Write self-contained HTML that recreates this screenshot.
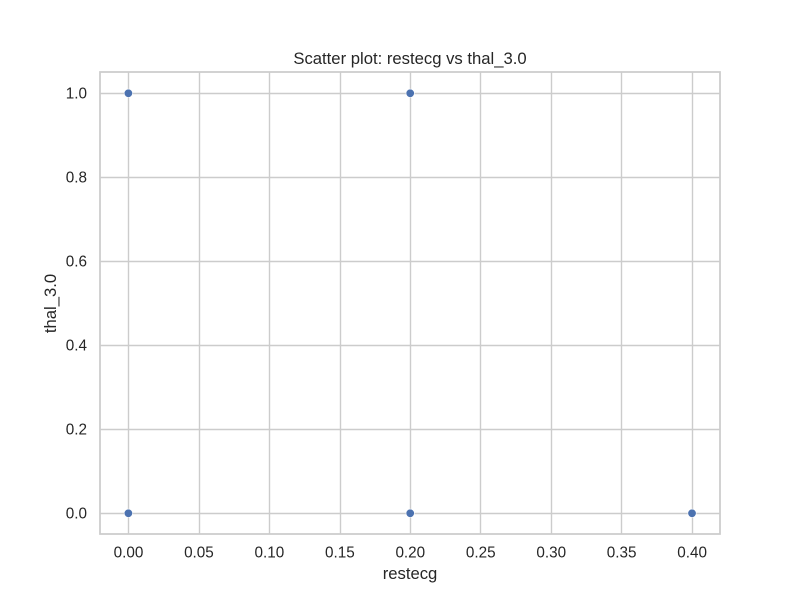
<!DOCTYPE html>
<html>
<head>
<meta charset="utf-8">
<style>
html,body{margin:0;padding:0;background:#fff;}
svg{display:block;}
text{font-family:"Liberation Sans",Arial,sans-serif;fill:#262626;}
</style>
</head>
<body>
<svg id="chart" xmlns="http://www.w3.org/2000/svg" width="800" height="600" viewBox="0 0 800 600">
<rect x="0" y="0" width="800" height="600" fill="#ffffff"/>
<g id="grid"></g>
<g id="xticks"></g>
<g id="yticks"></g>
<rect x="100" y="72" width="620" height="462" fill="none" stroke="#cccccc" stroke-width="1.74"/>
<g id="points"></g>
<text x="410" y="64" text-anchor="middle" font-size="16.67px">Scatter plot: restecg vs thal_3.0</text>
<text x="410" y="579" text-anchor="middle" font-size="16.67px">restecg</text>
<text transform="translate(56,303.5) rotate(-90)" text-anchor="middle" font-size="16.67px">thal_3.0</text>
</svg>
<script>
const xTickLabels = ["0.00","0.05","0.10","0.15","0.20","0.25","0.30","0.35","0.40"];
const yTickLabels = ["0.0","0.2","0.4","0.6","0.8","1.0"];
const restecgValues = [0, 0, 0.2, 0.2, 0.4];
const thalValues = [1, 0, 1, 0, 0];

const NS = "http://www.w3.org/2000/svg";
const xScale = v => 128.18 + (v / 0.4) * 563.64;
const yScale = v => 513 - v * 420;
const snap = p => Math.round(p) + 0.5;

const grid = document.getElementById("grid");
const xticks = document.getElementById("xticks");
const yticks = document.getElementById("yticks");
const points = document.getElementById("points");

xTickLabels.forEach(label => {
  const x = xScale(parseFloat(label));
  const line = document.createElementNS(NS, "line");
  
  
  line.setAttribute("x1", snap(x)); line.setAttribute("x2", snap(x));
  line.setAttribute("y1", 72); line.setAttribute("y2", 534);
  line.setAttribute("stroke", "#cccccc");
  line.setAttribute("stroke-width", "1.39");
  grid.appendChild(line);
  const t = document.createElementNS(NS, "text");
  
  
  t.setAttribute("x", x + 0.3); t.setAttribute("y", 557.5);
  t.setAttribute("text-anchor", "middle");
  t.setAttribute("font-size", "15.28px");
  t.textContent = label;
  xticks.appendChild(t);
});

yTickLabels.forEach(label => {
  const y = yScale(parseFloat(label));
  const line = document.createElementNS(NS, "line");
  
  
  line.setAttribute("x1", 100); line.setAttribute("x2", 720);
  line.setAttribute("y1", snap(y)); line.setAttribute("y2", snap(y));
  line.setAttribute("stroke", "#cccccc");
  line.setAttribute("stroke-width", "1.39");
  grid.appendChild(line);
  const t = document.createElementNS(NS, "text");
  
  
  t.setAttribute("x", 87); t.setAttribute("y", y + 5.3);
  t.setAttribute("text-anchor", "end");
  t.setAttribute("font-size", "15.28px");
  t.textContent = label;
  yticks.appendChild(t);
});

restecgValues.forEach((v, i) => {
  const c = document.createElementNS(NS, "circle");
  
  
  c.setAttribute("cx", xScale(v) + 0.2);
  c.setAttribute("cy", yScale(thalValues[i]) + 0.3);
  c.setAttribute("r", "4.2");
  c.setAttribute("fill", "#4c72b0");
  c.setAttribute("stroke", "#ffffff");
  c.setAttribute("stroke-width", "0.6");
  points.appendChild(c);
});
</script>
</body>
</html>
